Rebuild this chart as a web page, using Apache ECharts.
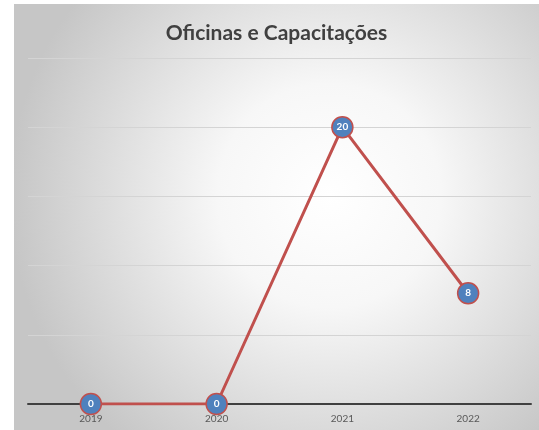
<!DOCTYPE html>
<html>
<head>
<meta charset="utf-8">
<script src="https://cdn.jsdelivr.net/npm/echarts@6/dist/echarts.min.js"></script>
<style>
  html, body { margin: 0; padding: 0; background: #fff; }
  #chart { position: absolute; left: 14px; top: 4px; width: 525px; height: 426px; }
</style>
</head>
<body>
<div id="chart"></div>
<script>
const years = ["2019", "2020", "2021", "2022"];
const oficinas = [0, 0, 20, 8];

const chart = echarts.init(document.getElementById("chart"));
chart.setOption({
  backgroundColor: new echarts.graphic.RadialGradient(0.6, 0.45, 0.75, [
    { offset: 0, color: "#ffffff" },
    { offset: 0.35, color: "#f7f7f7" },
    { offset: 1, color: "#c6c6c6" },
  ]),
  animation: false,
  title: {
    text: "Oficinas e Capacitações",
    left: "center",
    top: 14,
    padding: [5, 0, 5, 6],
    textStyle: {
      fontFamily: "Lato",
      fontWeight: "bold",
      fontSize: 21,
      color: "#404040",
    },
  },
  grid: {
    left: 14,
    right: 8,
    top: 54,
    bottom: 26,
  },
  xAxis: {
    type: "category",
    data: years,
    boundaryGap: true,
    axisLine: { lineStyle: { color: "#404040", width: 2 } },
    axisTick: { show: false },
    axisLabel: {
      margin: 10,
      fontFamily: "Lato",
      fontSize: 10,
      color: "#595959",
    },
  },
  yAxis: {
    type: "value",
    min: 0,
    max: 25,
    interval: 5,
    axisLabel: { show: false },
    axisLine: { show: false },
    axisTick: { show: false },
    splitLine: { lineStyle: { color: "#d4d4d4", width: 1 } },
  },
  series: [
    {
      name: "Oficinas e Capacitações",
      type: "line",
      data: oficinas,
      symbol: "circle",
      symbolSize: 21,
      lineStyle: { color: "#c0504d", width: 3 },
      itemStyle: {
        color: "#4f81bd",
        borderColor: "#c0504d",
        borderWidth: 1.5,
      },
      label: {
        show: true,
        position: "inside",
        fontFamily: "Lato",
        fontWeight: "bold",
        fontSize: 10,
        color: "#ffffff",
      },
      z: 3,
    },
  ],
});
</script>
</body>
</html>
